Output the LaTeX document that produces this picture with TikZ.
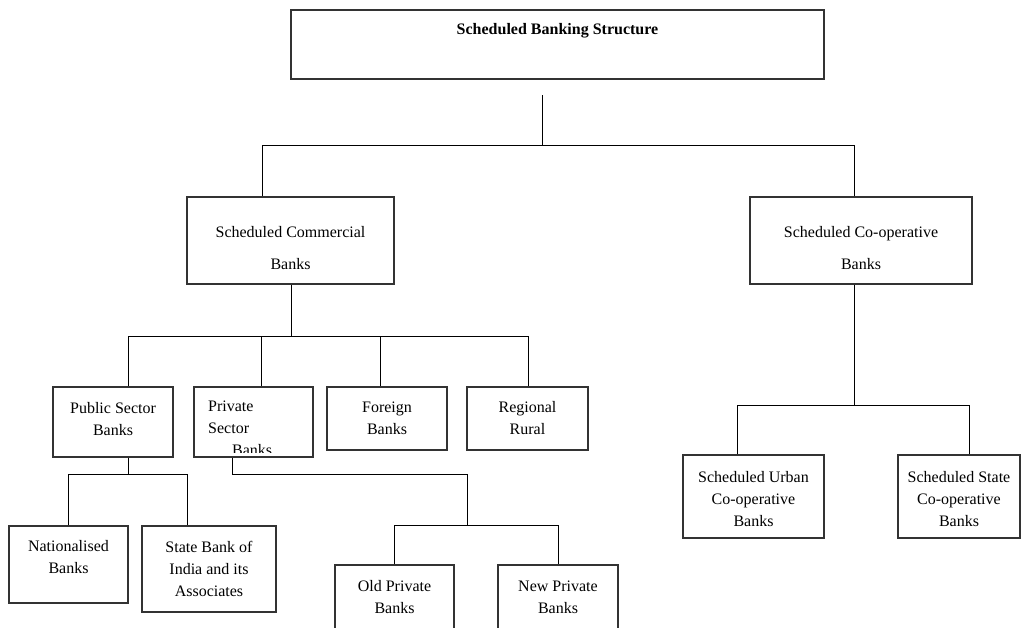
\documentclass[tikz,border=0pt]{standalone}
\usepackage{fontspec}
\setmainfont{Liberation Serif}
\usetikzlibrary{positioning}

\tikzset{
  bankbox/.style={draw=black!80, line width=1.2pt, align=center, inner sep=0pt},
  boxtext/.style={align=center, inner sep=0pt},
  link/.style={draw=black, line width=1pt},
}

\begin{document}
\begin{tikzpicture}[x=1pt, y=-1pt, font=\fontsize{16}{22}\selectfont]

  % Page frame
  \clip (0, 0) rectangle (1023, 627);

  % Title box
  \node[bankbox, minimum width=533, minimum height=69, font=\fontsize{16}{22}\selectfont\bfseries] (top) at (557.5, 44.5) {Scheduled Banking Structure\\[10pt]~};

  % Second level
  \node[bankbox, minimum width=207, minimum height=87] (scb) at (290.5, 240.5) {};
  \node[boxtext] (scbtext) at (290.5, 248.5) {Scheduled Commercial\\[10pt]Banks};
  \node[bankbox, minimum width=222, minimum height=87] (scob) at (861, 240.5) {};
  \node[boxtext] (scobtext) at (861, 248.5) {Scheduled Co-operative\\[10pt]Banks};

  % Commercial bank groups
  \node[bankbox, minimum width=120, minimum height=70] (pub) at (113, 422) {};
  \node[boxtext] (pubtext) at (113, 419) {Public Sector\\Banks};
  \node[bankbox, minimum width=119, minimum height=70] (pvt) at (253.5, 422) {};
  \node[bankbox, minimum width=120, minimum height=63] (frn) at (387, 418.5) {Foreign\\Banks};
  \node[bankbox, minimum width=121, minimum height=63] (rrb) at (527.5, 418.5) {Regional\\Rural};

  % Private sector text runs past its text area
  \begin{scope}
    \clip (pvt.north west) rectangle ([yshift=5]pvt.south east);
    \node[align=left, anchor=north west, inner sep=0pt] (pvttext) at (208, 401) {Private\\Sector\\\hspace*{24pt}Banks};
  \end{scope}

  % Public sector groups
  \node[bankbox, minimum width=119, minimum height=77] (nat) at (68.5, 564.5) {};
  \node[boxtext] (nattext) at (68.5, 557.5) {Nationalised\\Banks};
  \node[bankbox, minimum width=134, minimum height=86] (sbi) at (209, 569) {State Bank of\\India and its\\Associates};

  % Private sector groups
  \node[bankbox, minimum width=119, minimum height=64] (old) at (394.5, 597) {Old Private\\Banks};
  \node[bankbox, minimum width=120, minimum height=64] (new) at (558, 597) {New Private\\Banks};

  % Co-operative groups
  \node[bankbox, minimum width=141, minimum height=83] (urb) at (753.5, 496.5) {};
  \node[boxtext] (urbtext) at (753.5, 499) {Scheduled Urban\\Co-operative\\Banks};
  \node[bankbox, minimum width=122, minimum height=83] (ssc) at (959, 496.5) {};
  \node[boxtext] (ssctext) at (959, 499) {Scheduled State\\Co-operative\\Banks};

  % Level one joints
  \coordinate (t0) at (542, 95);
  \coordinate (ja) at (262, 145);
  \coordinate (jb) at (854, 145);
  \draw[link] (t0) -- (t0 |- ja);
  \draw[link] (ja |- scb.north) -- (ja) -- (jb) -- (jb |- scob.north);

  % Commercial bank joints
  \coordinate (jc) at (291, 336);
  \draw[link] (jc |- scb.south) -- (jc);
  \draw[link] (128, 336) -- (528, 336);
  \foreach \x/\n in {128/pub, 261/pvt, 380/frn, 528/rrb}
    \draw[link] (\x, 336) -- (\x, 336 |- \n.north);

  % Public sector joints
  \coordinate (jd) at (128, 474);
  \coordinate (je) at (187, 474);
  \draw[link] (jd |- pub.south) -- (jd);
  \draw[link] (nat.north) -- (nat.north |- jd) -- (je) -- (je |- sbi.north);

  % Private sector joints
  \coordinate (jf) at (232, 474);
  \coordinate (jg) at (467, 474);
  \coordinate (jh) at (467, 525);
  \draw[link] (jf |- pvt.south) -- (jf) -- (jg) -- (jh);
  \draw[link] (old.north) -- (old.north |- jh) -- (new.north |- jh) -- (new.north);

  % Co-operative joints
  \coordinate (jk) at (854, 405);
  \coordinate (jl) at (737, 405);
  \coordinate (jm) at (969, 405);
  \draw[link] (jk |- scob.south) -- (jk);
  \draw[link] (jl |- urb.north) -- (jl) -- (jm) -- (jm |- ssc.north);

\end{tikzpicture}
\end{document}
